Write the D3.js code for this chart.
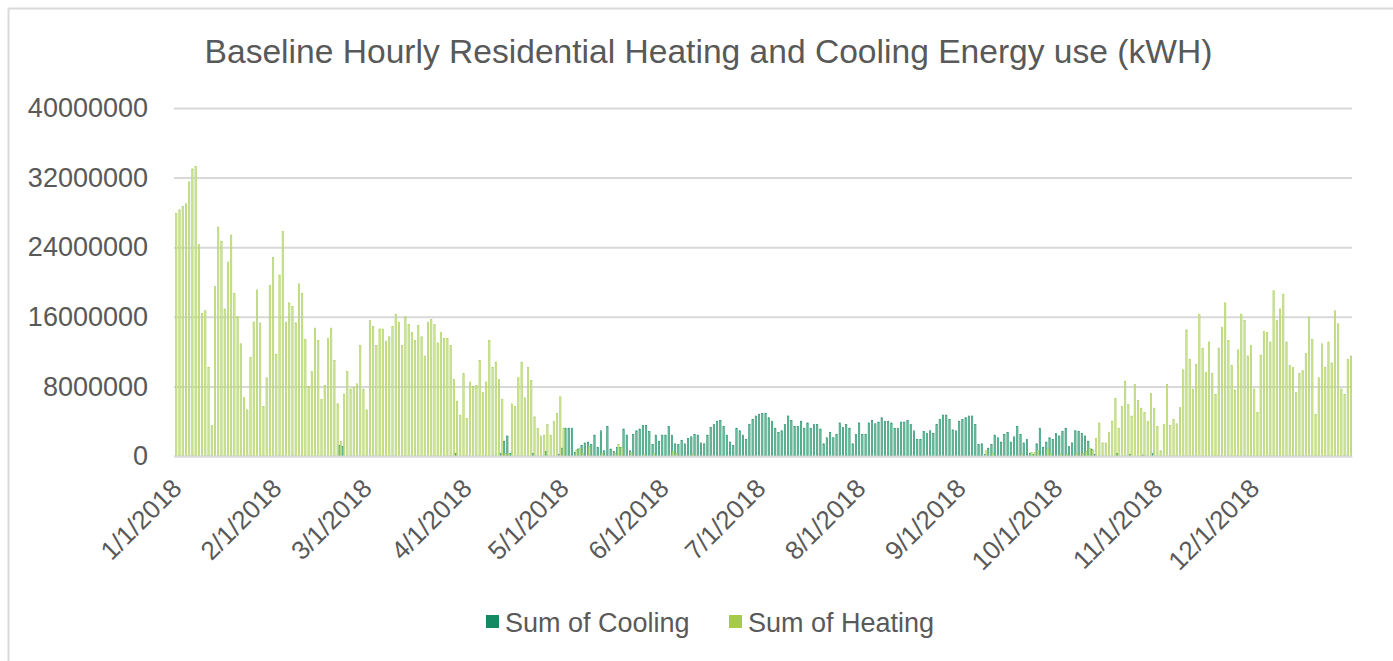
<!DOCTYPE html>
<html>
<head>
<meta charset="utf-8">
<script src="https://cdn.jsdelivr.net/npm/d3@7"></script>
<style>
  body { margin: 0; background: #ffffff; }
  svg { display: block; }
  text { font-family: "Liberation Sans", Arial, sans-serif; fill: #595959; }
</style>
</head>
<body>
<svg id="chart" width="1393" height="661"></svg>
<script>
// ---------------- DATA (values in millions of kWh, one per day of 2018) ----------------
const chartTitle = "Baseline Hourly Residential Heating and Cooling Energy use (kWH)";
const seriesNames = ["Sum of Cooling", "Sum of Heating"];
const yTickValues = [0, 8000000, 16000000, 24000000, 32000000, 40000000];
const monthTickDates = ["2018-01-01","2018-02-01","2018-03-01","2018-04-01","2018-05-01","2018-06-01",
                        "2018-07-01","2018-08-01","2018-09-01","2018-10-01","2018-11-01","2018-12-01"];
const yearStart = "2018-01-01";
const yearEnd = "2019-01-01";
const UNIT = 1000000;

const heatingM = [
  // Jan
  27.9, 28.3, 28.7, 29.0, 31.5, 33.0, 33.3, 24.3, 16.4, 16.7, 10.2, 3.5, 19.5, 26.3, 24.7, 16.9,
  22.3, 25.4, 18.7, 16.0, 12.9, 6.7, 5.3, 11.3, 15.4, 19.1, 15.3, 5.7, 9.0, 19.6, 22.8,
  // Feb
  11.7, 20.8, 25.8, 15.4, 17.6, 17.2, 15.3, 19.8, 18.7, 13.4, 8.0, 9.7, 14.7, 13.3, 6.5, 8.1,
  13.5, 14.7, 11.0, 6.0, 1.7, 7.1, 9.7, 7.7, 7.9, 8.3, 12.7, 7.7,
  // Mar
  5.3, 15.6, 14.9, 12.7, 14.6, 14.6, 13.2, 13.7, 14.9, 16.3, 15.4, 12.7, 16.0, 15.1, 14.2, 13.3,
  15.0, 13.7, 11.5, 15.4, 15.7, 15.1, 13.0, 14.2, 13.5, 13.5, 12.7, 8.8, 6.3, 4.7, 9.5,
  // Apr
  4.3, 8.5, 8.0, 8.1, 11.0, 7.3, 8.5, 13.3, 10.2, 10.8, 8.8, 6.5, 0.3, 0.2, 6.0, 5.7,
  9.0, 10.8, 6.7, 10.2, 8.7, 4.5, 3.2, 2.3, 2.4, 3.6, 2.4, 4.0, 4.9, 6.8,
  // May
  3.2, 0, 0, 0, 0.7, 0.9, 0.3, 0, 1.1, 0, 0, 0, 0.3, 0, 0, 0,
  0.3, 1.3, 1.0, 0, 0, 0.4, 0, 0, 0, 0.2, 0, 0, 0.3, 0, 0,
  // Jun
  0, 0, 0, 0.5, 0.3, 0, 0, 0, 0, 0.2, 0, 0, 0, 0, 0, 0,
  0, 0, 0, 0, 0, 0, 0, 0, 0, 0, 0, 0, 0, 0,
  // Jul
  0, 0, 0, 0, 0, 0, 0, 0, 0, 0, 0, 0, 0, 0, 0, 0,
  0, 0, 0, 0, 0, 0, 0, 0, 0, 0, 0, 0, 0, 0, 0,
  // Aug
  0, 0, 0, 0, 0, 0, 0, 0, 0, 0, 0, 0, 0, 0, 0, 0,
  0, 0, 0, 0, 0, 0, 0, 0, 0, 0, 0, 0, 0, 0, 0,
  // Sep
  0, 0, 0, 0, 0, 0, 0, 0, 0.6, 0, 0.3, 0, 0, 0, 0, 0,
  0, 0, 0, 0.2, 0, 0, 0.4, 0.4, 0.6, 0, 0, 0.8, 0.3, 0,
  // Oct
  0, 0.2, 0, 0.2, 0, 0, 0.3, 0, 0.3, 0.5, 0.9, 0.7, 2.0, 3.8, 1.5, 1.5,
  2.7, 4.0, 6.6, 3.2, 5.7, 8.6, 5.9, 4.6, 8.2, 6.4, 5.5, 5.0, 4.0, 7.2, 5.5,
  // Nov
  3.4, 0.6, 3.6, 8.2, 3.5, 4.2, 3.7, 5.6, 9.9, 14.5, 11.1, 7.7, 10.5, 16.3, 12.4, 9.6,
  13.1, 9.5, 7.1, 12.4, 14.8, 17.6, 13.3, 10.4, 7.6, 12.2, 16.3, 15.6, 11.5, 12.7,
  // Dec
  7.7, 5.0, 11.6, 14.3, 14.2, 13.1, 19.0, 15.6, 16.9, 18.6, 13.1, 10.4, 10.2, 7.3, 9.5, 9.8,
  11.8, 15.9, 13.4, 4.8, 9.0, 12.9, 10.2, 13.1, 10.7, 16.7, 15.2, 7.7, 7.1, 11.1, 11.5
];

const coolingM = [
  // Jan
  0, 0, 0, 0, 0, 0, 0, 0, 0, 0, 0, 0, 0, 0, 0, 0,
  0, 0, 0, 0, 0, 0, 0, 0, 0, 0, 0, 0, 0, 0, 0,
  // Feb
  0, 0, 0, 0, 0, 0, 0, 0, 0, 0, 0, 0, 0, 0, 0, 0,
  0, 0, 0, 0, 1.2, 1.1, 0, 0, 0, 0, 0, 0,
  // Mar
  0, 0, 0, 0, 0, 0, 0, 0, 0, 0, 0, 0, 0, 0, 0, 0,
  0, 0, 0, 0, 0, 0, 0, 0, 0, 0, 0, 0, 0.3, 0, 0,
  // Apr
  0, 0, 0, 0, 0, 0, 0, 0, 0, 0, 0, 0.3, 1.7, 2.3, 0.3, 0,
  0, 0, 0, 0, 0, 0.3, 0, 0, 0, 0.5, 0, 0, 0, 0.2,
  // May
  0.9, 3.2, 3.2, 3.2, 0.4, 0.8, 1.2, 1.5, 1.6, 1.3, 2.4, 1.0, 2.9, 0.6, 3.4, 0.8,
  0.5, 1.0, 1.0, 3.1, 2.4, 0.6, 2.5, 2.9, 3.1, 3.5, 3.5, 2.8, 1.3, 2.4, 1.7,
  // Jun
  2.4, 2.4, 3.4, 2.4, 1.4, 1.3, 1.8, 1.4, 2.0, 2.2, 2.5, 2.4, 1.5, 1.4, 2.4, 3.3,
  3.6, 4.0, 4.1, 3.4, 2.4, 1.6, 1.2, 3.2, 2.9, 2.4, 1.9, 3.6, 4.2, 4.6,
  // Jul
  4.8, 4.9, 4.9, 4.4, 4.0, 3.2, 2.7, 2.9, 3.6, 4.6, 4.1, 3.4, 3.4, 4.0, 3.2, 3.8,
  3.2, 3.6, 3.6, 3.1, 1.4, 2.1, 2.7, 2.1, 2.5, 3.8, 3.3, 3.6, 3.2, 1.4, 2.5,
  // Aug
  3.8, 2.5, 2.5, 3.8, 4.1, 3.7, 3.9, 4.4, 4.0, 4.0, 3.8, 3.2, 3.2, 3.9, 3.9, 4.1,
  3.6, 2.9, 1.9, 1.9, 2.8, 2.6, 2.9, 2.6, 3.6, 4.2, 4.7, 4.7, 4.2, 3.0, 2.9,
  // Sep
  4.0, 4.2, 4.4, 4.6, 4.6, 3.6, 1.3, 1.4, 0.2, 0.9, 1.3, 2.4, 2.1, 1.6, 2.5, 2.7,
  1.6, 2.2, 3.4, 2.5, 1.5, 1.9, 0.3, 0.2, 1.4, 3.2, 1.0, 1.6, 2.1, 1.9,
  // Oct
  2.6, 2.3, 2.8, 3.2, 1.1, 1.5, 2.9, 2.8, 2.6, 2.3, 1.7, 0.8, 0.2, 0, 0, 0,
  0, 0, 0, 0.3, 0, 0, 0, 0.2, 0, 0, 0, 0.1, 0, 0, 0.3,
  // Nov
  0, 0, 0, 0, 0, 0, 0, 0, 0, 0, 0, 0, 0, 0, 0, 0,
  0, 0, 0, 0, 0, 0, 0, 0, 0, 0, 0, 0, 0, 0,
  // Dec
  0, 0, 0, 0, 0, 0, 0, 0, 0, 0, 0, 0, 0, 0, 0, 0,
  0, 0, 0, 0, 0, 0, 0, 0, 0, 0, 0, 0, 0, 0, 0
];

// ---------------- CHART ----------------
const W = 1393, H = 661;
const plot = { left: 174, right: 1352, top: 108, bottom: 456 };
const colors = {
  coolingFill: "#7fc6a8", coolingStroke: "#1f8f68", coolingLegend: "#138a63",
  heatingFill: "#d4e7a6", heatingStroke: "#aacf5c", heatingLegend: "#a6ca4b",
  grid: "#d9d9d9", text: "#595959"
};

const parse = d3.timeParse("%Y-%m-%d");
const days = d3.timeDay.range(parse(yearStart), parse(yearEnd));
const data = days.map((d, i) => ({ date: d, cooling: coolingM[i] * UNIT, heating: heatingM[i] * UNIT }));

const x = d3.scaleTime().domain([parse(yearStart), parse(yearEnd)]).range([plot.left, plot.right]);
const y = d3.scaleLinear().domain([0, 40000000]).range([plot.bottom, plot.top]);
const band = (plot.right - plot.left) / days.length;

const svg = d3.select("#chart");
svg.append("rect").attr("width", W).attr("height", H).attr("fill", "#fff");

// chart-area border (top & left visible)
svg.append("line").attr("x1", 8.5).attr("x2", W).attr("y1", 8.5).attr("y2", 8.5)
  .attr("stroke", colors.grid).attr("stroke-width", 2);
svg.append("line").attr("x1", 8.5).attr("x2", 8.5).attr("y1", 8.5).attr("y2", H)
  .attr("stroke", colors.grid).attr("stroke-width", 2);

// title
svg.append("text").attr("x", 708.5).attr("y", 63).attr("text-anchor", "middle")
  .style("font-size", "33.6px").text(chartTitle);

// gridlines
const gridAxis = d3.axisLeft(y).tickValues(yTickValues).tickSize(-(plot.right - plot.left)).tickFormat("");
const gridG = svg.append("g").attr("transform", `translate(${plot.left},0)`).call(gridAxis);
gridG.select(".domain").remove();
gridG.selectAll("line").attr("stroke", colors.grid).attr("stroke-width", 2);

// y labels
const yAxis = d3.axisLeft(y).tickValues(yTickValues).tickSize(0).tickPadding(0).tickFormat(d3.format("d"));
const yG = svg.append("g").attr("transform", `translate(148,0)`).call(yAxis);
yG.select(".domain").remove();
yG.selectAll("text").style("font-size", "27px").attr("fill", colors.text)
  .attr("font-family", null).attr("dy", "0.32em");

// bars
const bw = 1.35;
svg.append("g").selectAll("rect").data(data.filter(d => d.cooling > 0)).join("rect")
  .attr("x", d => x(d.date) + 0.25)
  .attr("width", bw)
  .attr("y", d => y(d.cooling))
  .attr("height", d => y(0) - y(d.cooling))
  .attr("fill", colors.coolingFill).attr("stroke", colors.coolingStroke).attr("stroke-width", 0.6);

svg.append("g").selectAll("rect").data(data.filter(d => d.heating > 0)).join("rect")
  .attr("x", d => x(d.date) + 1.6)
  .attr("width", bw)
  .attr("y", d => y(d.heating))
  .attr("height", d => y(0) - y(d.heating))
  .attr("fill", colors.heatingFill).attr("stroke", colors.heatingStroke).attr("stroke-width", 0.6);

// x axis
const monthDates = monthTickDates.map(parse);
const xAxis = d3.axisBottom(x).tickValues(monthDates).tickSize(0).tickFormat(d3.timeFormat("%-m/%-d/%Y"));
const xG = svg.append("g").attr("transform", `translate(0,${plot.bottom})`).call(xAxis);
xG.select(".domain").attr("stroke", colors.grid).attr("stroke-width", 2);
xG.selectAll("text")
  .style("font-size", "26px").attr("fill", colors.text).attr("font-family", null)
  .attr("text-anchor", "end")
  .attr("dy", 0).attr("y", 0)
  .attr("transform", `translate(${band / 2 + 7},34) rotate(-45)`);

// legend
const legend = svg.append("g");
const legendItems = [
  { name: seriesNames[0], color: colors.coolingLegend, x: 486 },
  { name: seriesNames[1], color: colors.heatingLegend, x: 729 }
];
legendItems.forEach(it => {
  legend.append("rect").attr("x", it.x).attr("y", 615).attr("width", 13).attr("height", 13).attr("fill", it.color);
  legend.append("text").attr("x", it.x + 19).attr("y", 632).style("font-size", "27px").text(it.name);
});
</script>
</body>
</html>
